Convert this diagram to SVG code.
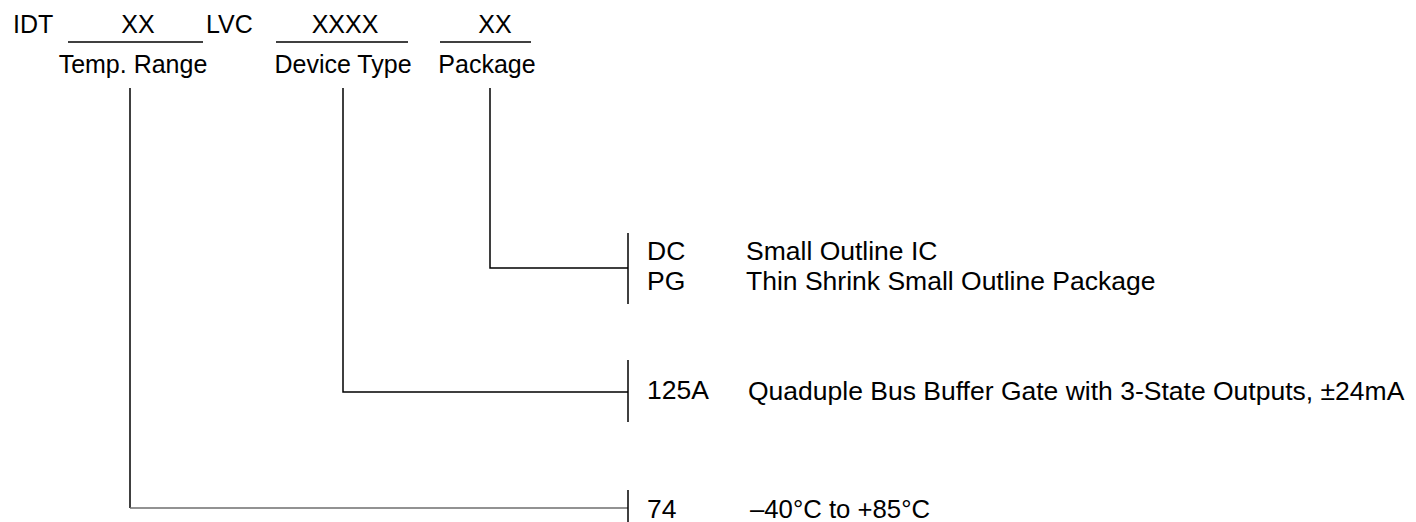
<svg xmlns="http://www.w3.org/2000/svg" width="1416" height="522" viewBox="0 0 1416 522">
<style>
.t{font-family:"Liberation Sans",Arial,sans-serif;font-size:25px;fill:#000}
.d{font-family:"Liberation Sans",Arial,sans-serif;font-size:26.5px;fill:#000}
.m{text-anchor:middle}
.l{stroke:#000;stroke-width:1.5;fill:none}
.g{stroke:#6e6e6e;stroke-width:1.5;fill:none}
</style>
<rect width="1416" height="522" fill="#fff"/>
<g id="header">
<text class="t" x="13" y="33">IDT</text>
<text class="t m" x="138" y="33">XX</text>
<line class="l" x1="68" y1="42" x2="203" y2="42"/>
<text class="t" x="206" y="33">LVC</text>
<text class="t m" x="345" y="33">XXXX</text>
<line class="l" x1="276" y1="42" x2="408" y2="42"/>
<text class="t m" x="495" y="33">XX</text>
<line class="l" x1="440" y1="42" x2="531" y2="42"/>
<text class="t m" x="133" y="73">Temp. Range</text>
<text class="t m" x="343" y="73">Device Type</text>
<text class="t m" x="487" y="73">Package</text>
</g>
<g id="connectors">
<polyline class="l" points="490,88 490,268 628,268"/>
<polyline class="l" points="343,88 343,392 628,392"/>
<line class="l" x1="130" y1="88" x2="130" y2="508"/>
<line class="g" x1="130" y1="508" x2="628" y2="508"/>
<line class="l" x1="628" y1="233" x2="628" y2="304"/>
<line class="l" x1="628" y1="360" x2="628" y2="422"/>
<line class="l" x1="628" y1="490" x2="628" y2="522"/>
</g>
<g id="package">
<text class="d" x="647" y="260">DC</text>
<text class="d" x="746" y="260">Small Outline IC</text>
<text class="d" x="647" y="290">PG</text>
<text class="d" x="746" y="290">Thin Shrink Small Outline Package</text>
</g>
<g id="device">
<text class="d" x="647" y="399">125A</text>
<text class="d" x="748" y="400">Quaduple Bus Buffer Gate with 3-State Outputs, ±24mA</text>
</g>
<g id="temp">
<text class="d" x="647" y="518">74</text>
<text class="d" x="750" y="518" textLength="180" lengthAdjust="spacingAndGlyphs">–40°C to +85°C</text>
</g>
</svg>
